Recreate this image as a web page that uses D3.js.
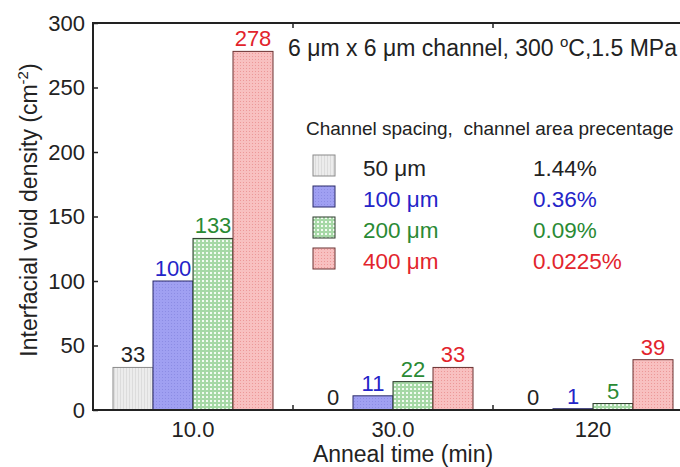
<!DOCTYPE html>
<html>
<head>
<meta charset="utf-8">
<script src="https://cdn.jsdelivr.net/npm/d3@7"></script>
<style>
  html, body { margin: 0; padding: 0; background: #fff; }
  svg { display: block; font-family: 'Liberation Sans', Arial, sans-serif; }
</style>
</head>
<body>
<div id="chart"></div>
<script>
// data
const annealTimes = ['10.0', '30.0', '120']
const spacings = ['50 \u03bcm', '100 \u03bcm', '200 \u03bcm', '400 \u03bcm']
const areaPercent = ['1.44%', '0.36%', '0.09%', '0.0225%']
const density50 = [33, 0, 0]
const density100 = [100, 11, 1]
const density200 = [133, 22, 5]
const density400 = [278, 33, 39]
const yTicks = [0, 50, 100, 150, 200, 250, 300]

const seriesValues = [density50, density100, density200, density400]
const textColors = ['#222', '#2424c8', '#2a8a34', '#e2242c']
const patternIds = ['pat-gray', 'pat-blue', 'pat-green', 'pat-red']
const strokeColors = ['#8a8a8a', '#2a2a6a', '#2a3a2a', '#6a3030']

const width = 680, height = 467
const margin = { top: 23, left: 93 }
const plotW = 600, plotH = 387

const svg = d3.select('#chart')
    .append('svg')
    .attr('width', width)
    .attr('height', height)

svg.append('rect').attr('width', width).attr('height', height).attr('fill', '#fff')

// fill patterns
const defs = svg.append('defs')
const pGray = defs.append('pattern').attr('id', 'pat-gray')
    .attr('patternUnits', 'userSpaceOnUse').attr('width', 3).attr('height', 3)
pGray.append('rect').attr('width', 3).attr('height', 3).attr('fill', '#ececec')
pGray.append('rect').attr('width', 1).attr('height', 3).attr('fill', '#dcdcdc')

const pBlue = defs.append('pattern').attr('id', 'pat-blue')
    .attr('patternUnits', 'userSpaceOnUse').attr('width', 3).attr('height', 3)
pBlue.append('rect').attr('width', 3).attr('height', 3).attr('fill', '#a0a0f2')
pBlue.append('rect').attr('width', 1).attr('height', 1).attr('fill', '#8c8ce4')

const pGreen = defs.append('pattern').attr('id', 'pat-green')
    .attr('patternUnits', 'userSpaceOnUse').attr('width', 4).attr('height', 4)
pGreen.append('rect').attr('width', 4).attr('height', 4).attr('fill', '#a6d8a6')
pGreen.append('rect').attr('x', 1).attr('y', 1).attr('width', 2).attr('height', 2).attr('fill', '#f2fbf2')

const pRed = defs.append('pattern').attr('id', 'pat-red')
    .attr('patternUnits', 'userSpaceOnUse').attr('width', 3).attr('height', 3)
pRed.append('rect').attr('width', 3).attr('height', 3).attr('fill', '#f8c0c0')
pRed.append('rect').attr('width', 1).attr('height', 1).attr('fill', '#ec9898')

const g = svg.append('g')
    .attr('transform', 'translate(' + margin.left + ',' + margin.top + ')')

const x0 = d3.scaleBand().domain(annealTimes).range([0, plotW])
const x1 = d3.scaleBand().domain(d3.range(spacings.length))
    .range([0, x0.bandwidth()]).paddingOuter(0.5).paddingInner(0)
const y = d3.scaleLinear().domain([0, 300]).range([plotH, 0])

// bars
seriesValues.forEach((vals, s) => {
  g.selectAll('rect.bar-' + s)
      .data(vals)
      .enter().append('rect')
      .attr('class', 'bar-' + s)
      .attr('x', (d, i) => x0(annealTimes[i]) + x1(s))
      .attr('y', d => y(d))
      .attr('width', x1.bandwidth())
      .attr('height', d => plotH - y(d))
      .attr('fill', 'url(#' + patternIds[s] + ')')
      .attr('stroke', strokeColors[s])
      .attr('stroke-width', 1)

  g.selectAll('text.lbl-' + s)
      .data(vals)
      .enter().append('text')
      .attr('class', 'lbl-' + s)
      .attr('x', (d, i) => x0(annealTimes[i]) + x1(s) + x1.bandwidth() / 2)
      .attr('y', d => y(d) - 5)
      .attr('text-anchor', 'middle')
      .attr('font-size', 22)
      .attr('fill', textColors[s])
      .text(d => d)
})

// axes
const yAxis = d3.axisLeft(y).tickValues(yTicks).tickSize(-5).tickPadding(8)
const yAxisG = g.append('g').call(yAxis)
yAxisG.select('.domain').remove()
yAxisG.selectAll('text').attr('font-size', 22).attr('fill', '#222')
yAxisG.selectAll('line').attr('stroke', '#222').attr('stroke-width', 1.5)

const xBreaks = annealTimes.slice(1).map(c => x0(c))
const xAxis = d3.axisBottom(x0).tickSize(0).tickPadding(11)
const xAxisG = g.append('g').attr('transform', 'translate(0,' + plotH + ')').call(xAxis)
xAxisG.select('.domain').remove()
xAxisG.selectAll('text').attr('font-size', 22).attr('fill', '#222')

g.selectAll('line.brk-b').data(xBreaks).enter().append('line')
    .attr('x1', d => d).attr('x2', d => d)
    .attr('y1', plotH).attr('y2', plotH - 5)
    .attr('stroke', '#222').attr('stroke-width', 1.5)
g.selectAll('line.brk-t').data(xBreaks).enter().append('line')
    .attr('x1', d => d).attr('x2', d => d)
    .attr('y1', 0).attr('y2', 5)
    .attr('stroke', '#222').attr('stroke-width', 1.5)

// frame
g.append('rect')
    .attr('width', plotW).attr('height', plotH)
    .attr('fill', 'none').attr('stroke', '#222').attr('stroke-width', 2)

// axis titles
const yTitle = svg.append('text')
    .attr('transform', 'translate(37,210) rotate(-90)')
    .attr('text-anchor', 'middle')
    .attr('font-size', 23)
    .attr('fill', '#222')
yTitle.append('tspan').text('Interfacial void density (cm')
yTitle.append('tspan').attr('font-size', 15).attr('dy', -9).text('-2')
yTitle.append('tspan').attr('dy', 9).text(')')

svg.append('text')
    .attr('x', margin.left + x0('30.0') + x0.bandwidth() / 2 + 10)
    .attr('y', 462)
    .attr('text-anchor', 'middle')
    .attr('font-size', 23)
    .attr('fill', '#222')
    .text('Anneal time (min)')

// annotation
const note = svg.append('text')
    .attr('x', 288).attr('y', 56)
    .attr('font-size', 23)
    .attr('fill', '#222')
note.append('tspan').text('6 \u03bcm x 6 \u03bcm channel, 300 ')
note.append('tspan').attr('font-size', 15).attr('dy', -9).text('o')
note.append('tspan').attr('dy', 9).text('C,1.5 MPa')

// legend
svg.append('text')
    .attr('x', 306).attr('y', 135)
    .attr('font-size', 19)
    .attr('fill', '#222')
    .style('white-space', 'pre')
    .text('Channel spacing,  channel area precentage')

const legend = svg.append('g')
const rowY = d3.scaleLinear().domain([0, 3]).range([176, 269])
spacings.forEach((name, s) => {
  legend.append('rect')
      .attr('x', 313).attr('y', rowY(s) - 21)
      .attr('width', 22).attr('height', 21)
      .attr('fill', 'url(#' + patternIds[s] + ')')
      .attr('stroke', strokeColors[s])
      .attr('stroke-width', 1)
  legend.append('text')
      .attr('x', 363).attr('y', rowY(s))
      .attr('font-size', 22.5)
      .attr('fill', textColors[s])
      .text(name)
  legend.append('text')
      .attr('x', 533).attr('y', rowY(s))
      .attr('font-size', 22.5)
      .attr('fill', textColors[s])
      .text(areaPercent[s])
})
</script>
</body>
</html>
